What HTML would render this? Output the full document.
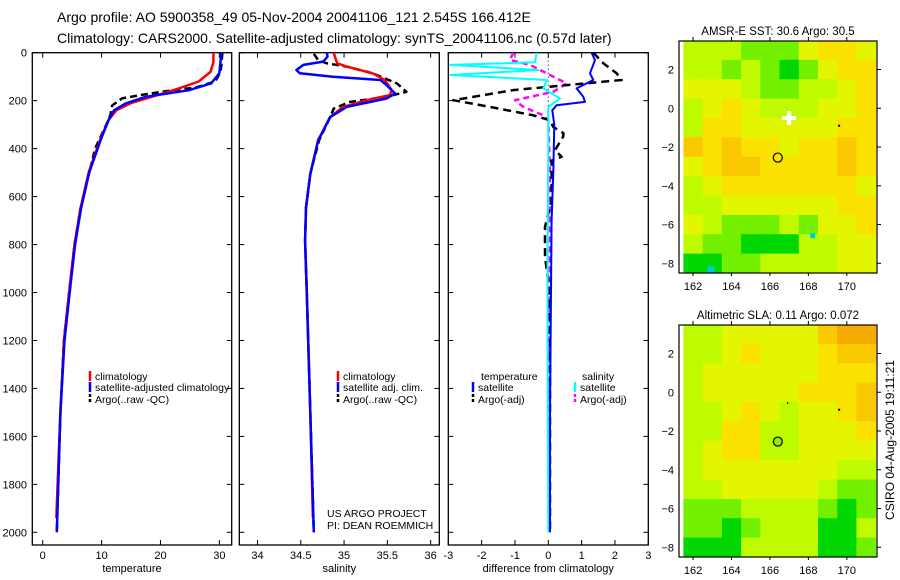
<!DOCTYPE html>
<html><head><meta charset="utf-8">
<style>
html,body{margin:0;padding:0;background:#fff;}
svg{display:block;font-family:"Liberation Sans",sans-serif;}
</style></head>
<body>
<svg id="fig" width="900" height="580" viewBox="0 0 900 580">
<text x="57" y="22" font-size="14">Argo profile: AO 5900358_49 05-Nov-2004 20041106_121 2.545S 166.412E</text>
<text x="57" y="43" font-size="14">Climatology: CARS2000. Satellite-adjusted climatology: synTS_20041106.nc (0.57d later)</text>
<g id="plots"></g>
<text x="894" y="440" font-size="12" transform="rotate(-90 894 440)" text-anchor="middle">CSIRO 04-Aug-2005 19:11:21</text>
</svg>
<script>
// ---- Temperature panel data (depth, value) ----
const tClimDepth = [0,40,80,120,150,180,210,240,280,360,500,650,800,950,1200,1500,1940];
const tClimVal   = [29.0,29.0,28.5,26.5,23,19,15,12.5,11.2,9.8,7.8,6.4,5.4,4.7,3.6,3.0,2.3];
const tSatDepth  = [0,40,86,128,156,184,212,240,280,360,500,650,800,950,1200,1500,2000];
const tSatVal    = [30.3,30.2,30.0,28.6,24.9,17.5,14.1,12.1,11.2,9.9,7.9,6.5,5.5,4.8,3.7,3.0,2.4];
const tArgoDepth = [0,40,80,120,145,160,175,190,220,260,300,400,500,650,800,950,1200,1500,2000];
const tArgoVal   = [30.5,30.4,30.2,29.3,26,21,17,13.5,11.8,11.5,10.8,8.9,7.9,6.4,5.4,4.7,3.6,3.0,2.4];
// ---- Salinity panel data ----
const sClimDepth = [0,44,58,86,114,156,177,198,226,268,366,506,646,786,1000,1500,1940];
const sClimVal   = [34.88,34.92,35.03,35.33,35.47,35.55,35.53,35.26,34.99,34.84,34.70,34.61,34.56,34.55,34.57,34.61,34.64];
const sSatDepth  = [0,16,37,51,72,86,100,114,135,170,191,226,268,366,506,646,786,1000,1500,2000];
const sSatVal    = [34.80,34.81,34.76,34.53,34.45,34.49,34.87,35.42,35.49,35.59,35.49,35.03,34.84,34.70,34.61,34.56,34.55,34.57,34.61,34.65];
const sArgoDepth = [5,30,44,58,86,128,163,184,205,233,268,366,506,646,786,1000,1500,2000];
const sArgoVal   = [34.65,34.70,34.80,35.03,35.33,35.61,35.72,35.49,35.07,34.88,34.84,34.71,34.61,34.56,34.55,34.57,34.61,34.65];
// ---- Difference panel data ----
const dTSatDepth = [0,31,86,114,149,184,205,219,240,300,500,700,1000,1500,2000];
const dTSatVal   = [1.3,1.4,1.25,1.35,0.85,1.05,1.1,0.25,0.12,0.18,0.15,0.1,0.08,0.05,0.05];
const dTArgoDepth= [0,44,86,114,156,198,226,261,282,310,335,349,406,434,450,560,615,727,853,950,1200,1600,2000];
const dTArgoVal  = [1.35,1.65,2.05,2.2,-1.05,-2.85,-1.75,-0.45,0.05,0.15,0.45,0.45,0.2,0.4,0.1,0.1,0.1,-0.1,-0.1,0.0,0.05,0.05,0.05];
const dSSatDepth = [0,40,51,72,93,114,149,191,226,400,800,1200,2000];
const dSSatVal   = [-0.35,-0.4,-2.95,-0.3,-2.95,-0.05,-0.15,0.35,0.0,0.0,-0.02,-0.02,0.0];
const dSArgoDepth= [0,30,51,72,93,128,163,198,226,261,282,500,800,1200,2000];
const dSArgoVal  = [-1.05,-1.15,-0.55,-0.25,0.05,0.55,0.15,-1.0,-0.75,-0.15,0.0,0.05,0.05,0.03,0.02];
// ---- Ticks ----
const depthTicks = [0,200,400,600,800,1000,1200,1400,1600,1800,2000];
const tempTicks = [0,10,20,30];
const salTicks = [34,34.5,35,35.5,36];
const diffTicks = [-3,-2,-1,0,1,2,3];
const lonTicks = [162,164,166,168,170];
const latTicks = [2,0,-2,-4,-6,-8];
// ---- Map grids (1-degree cells, rows lat 3..-8, cols lon 162..171), colour level 2..8 ----
const mapLats = [3,2,1,0,-1,-2,-3,-4,-5,-6,-7,-8];
const mapLons = [162,163,164,165,166,167,168,169,170,171];
const sstGrid = ["4443335665","4434323566","5554334456","4565444556","4665555566","7676656676","5677666676","4566666665","4455555566","5433343556","4332224455","2233444455"];
const slaGrid = ["4455555788","4456555677","4555555666","4555556667","4456545567","4466445556","4566445555","4555555544","4455555433","3334444323","3323444224","2224444223"];

const NS='http://www.w3.org/2000/svg';
const root=document.getElementById('plots');
function mk(tag,attrs,parent){const e=document.createElementNS(NS,tag);for(const k in attrs)e.setAttribute(k,attrs[k]);(parent||root).appendChild(e);return e;}
function txt(s,x,y,size,anchor,parent){const t=mk('text',{x:x,y:y,'font-size':size,'text-anchor':anchor||'start'},parent);t.textContent=s;return t;}

const TOP=52.7,BOT=545, DMAX=(BOT-TOP)/((532.3-52.7)/2000);
function yD(d){return TOP+d*(BOT-TOP)/DMAX;}

function panel(name,x0,x1,xmin,xmax,ticks,tickFmt,title,showY){
  const g=mk('g',{});
  
  
  const sx=v=>x0+(v-xmin)/(xmax-xmin)*(x1-x0);
  const fr=mk('rect',{x:x0,y:TOP,width:x1-x0,height:BOT-TOP,fill:'none',stroke:'#000','stroke-width':1.3},g);
  
  
  ticks.forEach(v=>{const x=sx(v);
    mk('line',{x1:x,x2:x,y1:TOP,y2:TOP+5,stroke:'#000'},g);
    mk('line',{x1:x,x2:x,y1:BOT,y2:BOT-5,stroke:'#000'},g);
    const t=txt(tickFmt(v),x,559,11,'middle',g);
    
    
  });
  depthTicks.forEach(d=>{const y=yD(d);
    mk('line',{x1:x0,x2:x0+5,y1:y,y2:y,stroke:'#000'},g);
    mk('line',{x1:x1,x2:x1-5,y1:y,y2:y,stroke:'#000'},g);
    if(showY){const t=txt(String(d),27,y+4,11,'end',g);
      
      }
  });
  const at=txt(title,(x0+x1)/2,572,11,'middle',g);
  
  
  return {g,sx};
}
function series(p,depths,vals,color,dash,w,name){
  const pts=depths.map((d,i)=>p.sx(vals[i]).toFixed(1)+','+yD(d).toFixed(1)).join(' ');
  const l=mk('polyline',{points:pts,fill:'none',stroke:color,'stroke-width':w||2,'stroke-dasharray':dash||'none','stroke-linejoin':'round'},p.g);
  
  
}
function legend(g,x,y,label,color,dash,name){
  const l=mk('line',{x1:x,x2:x,y1:y-9,y2:y+1,stroke:color,'stroke-width':2.5,'stroke-dasharray':dash||'none'},g);
  
  
  const t=txt(label,x+5,y,10.5,'start',g);
  
  
}
const fmt=v=>String(v);

// Temperature panel
const p1=panel('temperature-panel',32.3,231.7,-1.77,32.1,tempTicks,fmt,'temperature',true);
series(p1,tArgoDepth,tArgoVal,'#000','7,4',2.5,'temperature-argo-line');
series(p1,tClimDepth,tClimVal,'#f00',null,2.5,'temperature-climatology-line');
series(p1,tSatDepth,tSatVal,'#00f',null,2.5,'temperature-satellite-line');
legend(p1.g,90,380,'climatology','#f00',null,'legend-climatology');
legend(p1.g,90,391,'satellite-adjusted climatology','#00f',null,'legend-satellite');
legend(p1.g,90,403,'Argo(..raw -QC)','#000','3,2','legend-argo');

// Salinity panel
const p2=panel('salinity-panel',239.3,439.3,33.79,36.1,salTicks,fmt,'salinity',false);
series(p2,sArgoDepth,sArgoVal,'#000','7,4',2.5,'salinity-argo-line');
series(p2,sClimDepth,sClimVal,'#f00',null,2.5,'salinity-climatology-line');
series(p2,sSatDepth,sSatVal,'#00f',null,2.5,'salinity-satellite-line');
legend(p2.g,338,380,'climatology','#f00',null,'legend-climatology-2');
legend(p2.g,338,391,'satellite adj. clim.','#00f',null,'legend-satellite-2');
legend(p2.g,338,403,'Argo(..raw -QC)','#000','3,2','legend-argo-2');
let c1=txt('US ARGO PROJECT',327,517,10.5,'start',p2.g);


let c2=txt('PI: DEAN ROEMMICH',327,529,10.5,'start',p2.g);



// Difference panel
const p3=panel('difference-panel',448.3,648.3,-3,3,diffTicks,fmt,'difference from climatology',false);
const zl=mk('line',{x1:p3.sx(0),x2:p3.sx(0),y1:TOP,y2:yD(420),stroke:'#000','stroke-dasharray':'1,3'},p3.g);


series(p3,dSArgoDepth,dSArgoVal,'#f0f','6,4',2.5,'salinity-argo-diff-line');
series(p3,dTArgoDepth,dTArgoVal,'#000','8,5',2.5,'temperature-argo-diff-line');
series(p3,dSSatDepth,dSSatVal,'#0ff',null,2,'salinity-satellite-diff-line');
series(p3,dTSatDepth,dTSatVal,'#00f',null,2,'temperature-satellite-diff-line');
let lt=txt('temperature',481,380,10.5,'start',p3.g);


let ls=txt('salinity',582,380,10.5,'start',p3.g);


legend(p3.g,473,391,'satellite','#00f',null,'legend-temp-satellite');
legend(p3.g,473,403,'Argo(-adj)','#000','3,2','legend-temp-argo');
legend(p3.g,575,391,'satellite','#0ff',null,'legend-sal-satellite');
legend(p3.g,575,403,'Argo(-adj)','#f0f','3,2','legend-sal-argo');

// Maps
const palette={2:'rgb(0,215,0)',3:'rgb(115,240,0)',4:'rgb(190,250,0)',5:'rgb(228,245,0)',6:'rgb(250,225,0)',7:'rgb(250,200,0)',8:'rgb(245,170,0)'};
function map(name,top,bot,grid,title,markers){
  const g=mk('g',{});
  
  
  const L=679,R=877,lonMin=161.27,lonMax=171.57,latMax=3.47,latMin=-8.5;
  const sx=v=>L+(v-lonMin)/(lonMax-lonMin)*(R-L);
  const sy=v=>top+(latMax-v)/(latMax-latMin)*(bot-top);
  const cp=mk('clipPath',{id:name+'-clip'},g);
  mk('rect',{x:L,y:top,width:R-L,height:bot-top},cp);
  const cg=mk('g',{'clip-path':'url(#'+name+'-clip)'},g);
  mapLats.forEach((lat,i)=>{mapLons.forEach((lon,j)=>{
    const x=sx(lon-0.5),y=sy(lat+0.5);
    const c=mk('rect',{x:x.toFixed(1),y:y.toFixed(1),width:(sx(lon+0.5)-x+0.5).toFixed(1),height:(sy(lat-0.5)-y+0.5).toFixed(1),fill:palette[grid[i][j]]},cg);
    
    
  });});
  markers(cg,sx,sy);
  const fr=mk('rect',{x:L,y:top,width:R-L,height:bot-top,fill:'none',stroke:'#000','stroke-width':1.2},g);
  
  
  lonTicks.forEach(v=>{const x=sx(v);
    mk('line',{x1:x,x2:x,y1:top,y2:top-4,stroke:'#000'},g);
    mk('line',{x1:x,x2:x,y1:bot,y2:bot+3,stroke:'#000'},g);
    const t=txt(String(v),x,bot+17,11,'middle',g);
    
    });
  latTicks.forEach(v=>{const y=sy(v);
    mk('line',{x1:R,x2:R+4,y1:y,y2:y,stroke:'#000'},g);
    const t=txt(String(v).replace('-','\u2212'),674,y+4,11,'end',g);
    
    });
  const tt=txt(title,(L+R)/2,top-6,11.5,'middle',g);
  
  
}
map('sst-map',41,273,sstGrid,'AMSR-E SST: 30.6 Argo: 30.5',(g,sx,sy)=>{
  const cx=sx(167),cy=sy(-0.5);
  const w=mk('path',{d:`M${cx-7} ${cy}H${cx+7}M${cx} ${cy-7}V${cy+7}`,stroke:'#fff','stroke-width':4},g);
  
  
  const c=mk('circle',{cx:sx(166.41),cy:sy(-2.545),r:4.5,fill:'none',stroke:'#000','stroke-width':1.2},g);
  
  
  mk('rect',{x:sx(169.6)-1,y:sy(-0.9)-1,width:2,height:2,fill:'#000'},g);
  mk('rect',{x:sx(168.2)-2,y:sy(-6.55)-2,width:5,height:5,fill:'#0cc'},g);
  mk('rect',{x:sx(162.9)-3,y:sy(-8.3)-3,width:7,height:7,fill:'#0cc'},g);
});
map('sla-map',325,557,slaGrid,'Altimetric SLA: 0.11 Argo: 0.072',(g,sx,sy)=>{
  const c=mk('circle',{cx:sx(166.41),cy:sy(-2.545),r:4.5,fill:'rgb(140,240,0)',stroke:'#000','stroke-width':1.2},g);
  
  
  mk('rect',{x:sx(169.6)-1,y:sy(-0.9)-1,width:2,height:2,fill:'#000'},g);
  mk('rect',{x:sx(166.9),y:sy(-0.5),width:1,height:2,fill:'#000'},g);
});
</script>
</body></html>
